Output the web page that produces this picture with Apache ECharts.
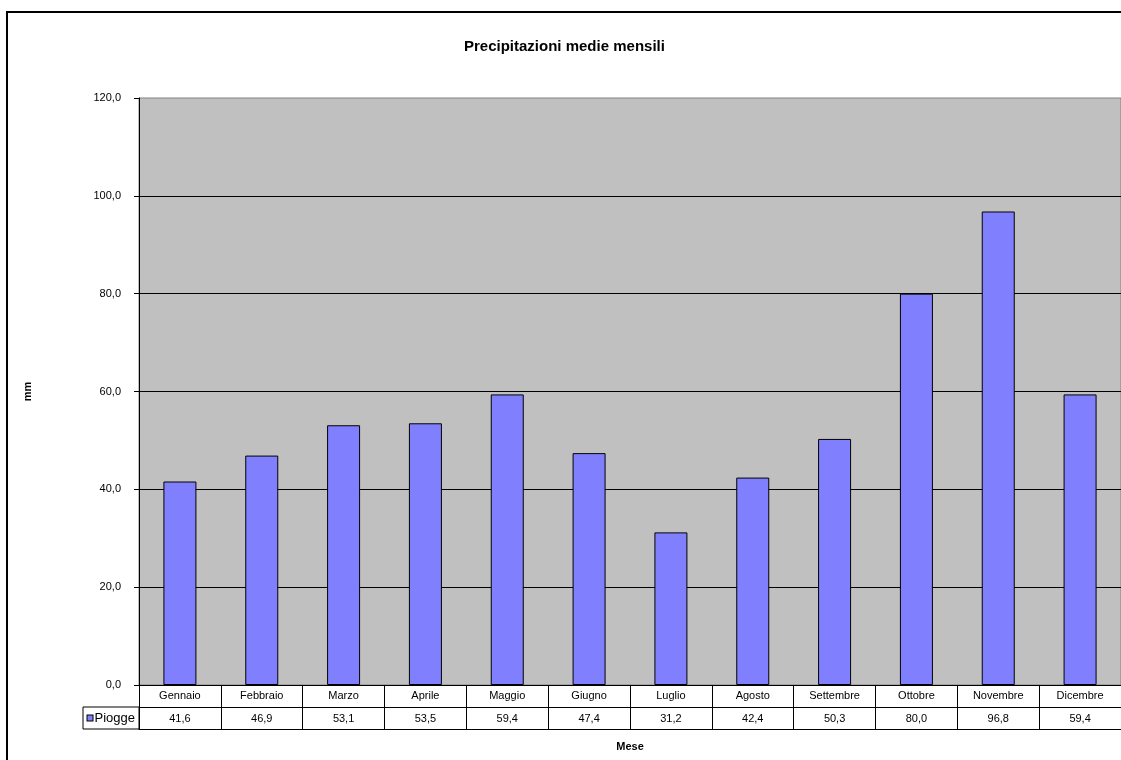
<!DOCTYPE html>
<html>
<head>
<meta charset="utf-8">
<script src="https://cdn.jsdelivr.net/npm/echarts@6/dist/echarts.min.js"></script>
<style>
html,body{margin:0;padding:0;background:#fff;}
#chart{width:1121px;height:760px;}
</style>
</head>
<body>
<div id="chart"></div>
<script>
var titleText = 'Precipitazioni medie mensili';
var months = ['Gennaio','Febbraio','Marzo','Aprile','Maggio','Giugno','Luglio','Agosto','Settembre','Ottobre','Novembre','Dicembre'];
var piogge = [41.6, 46.9, 53.1, 53.5, 59.4, 47.4, 31.2, 42.4, 50.3, 80.0, 96.8, 59.4];
var seriesName = 'Piogge';
var yAxisName = 'mm';
var xAxisName = 'Mese';
var yMin = 0, yMax = 120, yStep = 20;

function fmt(v){ return Number(v).toFixed(1).replace('.', ','); }

var FONT = 'Liberation Sans, Arial, sans-serif';
var chart = echarts.init(document.getElementById('chart'));
chart.setOption({
  animation: false,
  backgroundColor: '#fff',
  title: {
    text: titleText,
    left: 459, top: 34,
    textStyle: {fontFamily: FONT, fontSize: 15, fontWeight: 'bold', color: '#000'}
  },
  graphic: [
    {type: 'rect', z: -1, shape: {x: 7, y: 12, width: 1300, height: 900},
     style: {fill: 'none', stroke: '#000', lineWidth: 2}},
    {type: 'rect', z: 10, shape: {x: 83, y: 707, width: 56, height: 22},
     style: {fill: 'none', stroke: '#000', lineWidth: 1}}
  ],
  grid: [
    {left: 139, top: 98, width: 984, height: 587, show: true,
     backgroundColor: '#C0C0C0', borderColor: '#808080', borderWidth: 1},
    {left: 139, top: 685, width: 984, height: 44, show: false}
  ],
  xAxis: [
    {type: 'category', gridIndex: 0, data: months, boundaryGap: true,
     axisLine: {show: true, lineStyle: {color: '#000', width: 1}},
     axisTick: {show: false},
     axisLabel: {margin: 5, interval: 0, fontFamily: FONT, fontSize: 11, color: '#000'},
     splitLine: {show: false}},
    {type: 'category', gridIndex: 1, data: months, boundaryGap: true, position: 'bottom',
     axisLine: {show: true, lineStyle: {color: '#000', width: 1}},
     axisTick: {show: false},
     axisLabel: {inside: true, margin: 5, interval: 0, fontFamily: FONT, fontSize: 11, color: '#000',
       formatter: function(v, i){ return fmt(piogge[i]); }},
     splitLine: {show: true, interval: 0, lineStyle: {color: '#000', width: 1}},
     name: xAxisName, nameLocation: 'middle', nameGap: 12,
     nameTextStyle: {fontFamily: FONT, fontSize: 11, fontWeight: 'bold', color: '#000'}}
  ],
  yAxis: [
    {type: 'value', gridIndex: 0, min: yMin, max: yMax, interval: yStep,
     axisLine: {show: true, lineStyle: {color: '#000', width: 1}},
     axisTick: {show: true, length: 5, lineStyle: {color: '#000'}},
     axisLabel: {margin: 18, fontFamily: FONT, fontSize: 11, color: '#000', formatter: fmt},
     splitLine: {show: true, showMaxLine: false, lineStyle: {color: '#000', width: 1}},
     name: yAxisName, nameLocation: 'middle', nameGap: 106, nameRotate: 90,
     nameTextStyle: {fontFamily: FONT, fontSize: 11, fontWeight: 'bold', color: '#000'}},
    {type: 'category', gridIndex: 1, data: [seriesName, ''], boundaryGap: true,
     axisLine: {show: true, lineStyle: {color: '#000', width: 1}},
     axisTick: {show: false},
     axisLabel: {margin: 4, fontFamily: FONT, fontSize: 13, color: '#000',
       formatter: function(v, i){ return v ? '{sq|}{gap|}' + v : ''; },
       rich: {
         sq: {width: 5, height: 5, backgroundColor: '#8080FF', borderColor: '#000', borderWidth: 1, padding: 0, align: 'center'},
         gap: {width: 2}
       }},
     splitLine: {show: true, lineStyle: {color: '#000', width: 1}}}
  ],
  series: [
    {type: 'bar', name: seriesName, xAxisIndex: 0, yAxisIndex: 0, data: piogge, barWidth: 33,
     itemStyle: {color: '#8080FF', borderColor: '#000', borderWidth: 1}}
  ]
});
</script>
</body>
</html>
